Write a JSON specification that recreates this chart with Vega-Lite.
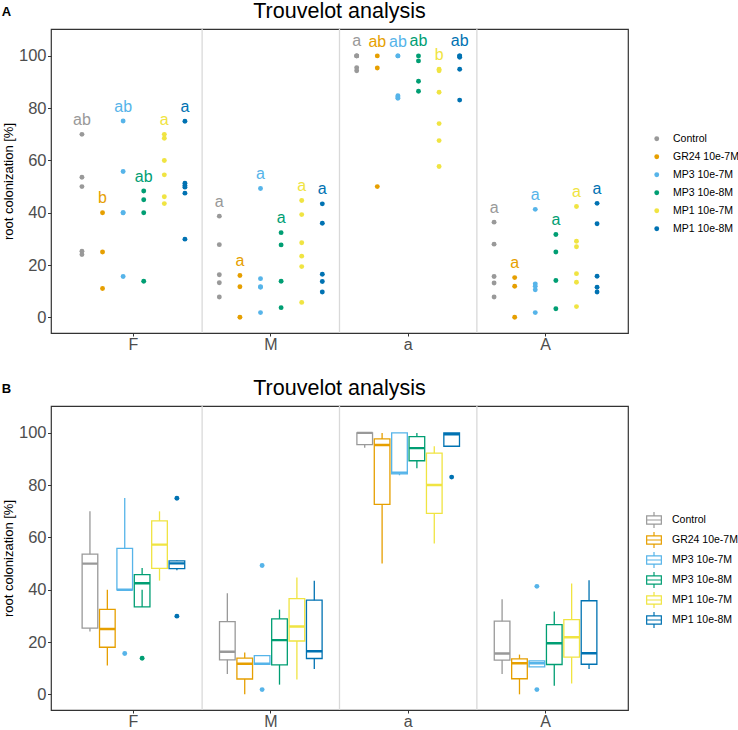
{
  "$schema": "https://vega.github.io/schema/vega-lite/v6.json",
  "background": "white",
  "padding": {"left": 1, "top": 0, "right": 0, "bottom": 0},
  "config": {
    "font": "Liberation Sans",
    "view": {"stroke": "#333333", "strokeWidth": 1.2},
    "axis": {"grid": false, "domain": false, "tickColor": "#333333", "tickSize": 3.5, "labelColor": "#4d4d4d", "labelFontSize": 16.5, "labelPadding": 1.5, "titleFontSize": 13, "titleFontWeight": "normal", "titleColor": "#000000", "titlePadding": 3},
    "axisX": {"labelPadding": 0, "labelFontSize": 16, "tickSize": 3},
    "legend": {"labelFontSize": 10.5, "labelColor": "#000000", "padding": 0},
    "title": {"fontSize": 21.5, "fontWeight": "normal", "color": "#000000", "offset": 5.5}
  },
  "datasets": {
    "pts": [
      {"cat": "F", "group": "Control", "value": 70}, {"cat": "F", "group": "Control", "value": 53.6}, {"cat": "F", "group": "Control", "value": 50}, {"cat": "F", "group": "Control", "value": 25.3}, {"cat": "F", "group": "Control", "value": 24},
      {"cat": "F", "group": "GR24 10e-7M", "value": 40}, {"cat": "F", "group": "GR24 10e-7M", "value": 25}, {"cat": "F", "group": "GR24 10e-7M", "value": 11},
      {"cat": "F", "group": "MP3 10e-7M", "value": 75.1}, {"cat": "F", "group": "MP3 10e-7M", "value": 55.8}, {"cat": "F", "group": "MP3 10e-7M", "value": 40}, {"cat": "F", "group": "MP3 10e-7M", "value": 40}, {"cat": "F", "group": "MP3 10e-7M", "value": 15.6},
      {"cat": "F", "group": "MP3 10e-8M", "value": 48.3}, {"cat": "F", "group": "MP3 10e-8M", "value": 45}, {"cat": "F", "group": "MP3 10e-8M", "value": 40}, {"cat": "F", "group": "MP3 10e-8M", "value": 13.8},
      {"cat": "F", "group": "MP1 10e-7M", "value": 70}, {"cat": "F", "group": "MP1 10e-7M", "value": 68.5}, {"cat": "F", "group": "MP1 10e-7M", "value": 60}, {"cat": "F", "group": "MP1 10e-7M", "value": 54.5}, {"cat": "F", "group": "MP1 10e-7M", "value": 46.1}, {"cat": "F", "group": "MP1 10e-7M", "value": 43.5},
      {"cat": "F", "group": "MP1 10e-8M", "value": 75}, {"cat": "F", "group": "MP1 10e-8M", "value": 51.3}, {"cat": "F", "group": "MP1 10e-8M", "value": 50.4}, {"cat": "F", "group": "MP1 10e-8M", "value": 49.8}, {"cat": "F", "group": "MP1 10e-8M", "value": 47.5}, {"cat": "F", "group": "MP1 10e-8M", "value": 29.9},
      {"cat": "M", "group": "Control", "value": 38.7}, {"cat": "M", "group": "Control", "value": 27.8}, {"cat": "M", "group": "Control", "value": 16.3}, {"cat": "M", "group": "Control", "value": 13.2}, {"cat": "M", "group": "Control", "value": 7.8},
      {"cat": "M", "group": "GR24 10e-7M", "value": 16}, {"cat": "M", "group": "GR24 10e-7M", "value": 11.7}, {"cat": "M", "group": "GR24 10e-7M", "value": 0},
      {"cat": "M", "group": "MP3 10e-7M", "value": 49.3}, {"cat": "M", "group": "MP3 10e-7M", "value": 14.8}, {"cat": "M", "group": "MP3 10e-7M", "value": 11.7}, {"cat": "M", "group": "MP3 10e-7M", "value": 11.5}, {"cat": "M", "group": "MP3 10e-7M", "value": 1.8},
      {"cat": "M", "group": "MP3 10e-8M", "value": 32.4}, {"cat": "M", "group": "MP3 10e-8M", "value": 27.7}, {"cat": "M", "group": "MP3 10e-8M", "value": 13.8}, {"cat": "M", "group": "MP3 10e-8M", "value": 3.7},
      {"cat": "M", "group": "MP1 10e-7M", "value": 44.7}, {"cat": "M", "group": "MP1 10e-7M", "value": 39.3}, {"cat": "M", "group": "MP1 10e-7M", "value": 28.5}, {"cat": "M", "group": "MP1 10e-7M", "value": 23.4}, {"cat": "M", "group": "MP1 10e-7M", "value": 19.4}, {"cat": "M", "group": "MP1 10e-7M", "value": 5.7},
      {"cat": "M", "group": "MP1 10e-8M", "value": 43.4}, {"cat": "M", "group": "MP1 10e-8M", "value": 36}, {"cat": "M", "group": "MP1 10e-8M", "value": 16.5}, {"cat": "M", "group": "MP1 10e-8M", "value": 13.7}, {"cat": "M", "group": "MP1 10e-8M", "value": 9.7},
      {"cat": "a", "group": "Control", "value": 100}, {"cat": "a", "group": "Control", "value": 100}, {"cat": "a", "group": "Control", "value": 100}, {"cat": "a", "group": "Control", "value": 95.5}, {"cat": "a", "group": "Control", "value": 94.3},
      {"cat": "a", "group": "GR24 10e-7M", "value": 100}, {"cat": "a", "group": "GR24 10e-7M", "value": 95.4}, {"cat": "a", "group": "GR24 10e-7M", "value": 50},
      {"cat": "a", "group": "MP3 10e-7M", "value": 100}, {"cat": "a", "group": "MP3 10e-7M", "value": 100}, {"cat": "a", "group": "MP3 10e-7M", "value": 84.8}, {"cat": "a", "group": "MP3 10e-7M", "value": 84.3}, {"cat": "a", "group": "MP3 10e-7M", "value": 83.8},
      {"cat": "a", "group": "MP3 10e-8M", "value": 100}, {"cat": "a", "group": "MP3 10e-8M", "value": 98.1}, {"cat": "a", "group": "MP3 10e-8M", "value": 90.3}, {"cat": "a", "group": "MP3 10e-8M", "value": 86.5},
      {"cat": "a", "group": "MP1 10e-7M", "value": 94.9}, {"cat": "a", "group": "MP1 10e-7M", "value": 94.3}, {"cat": "a", "group": "MP1 10e-7M", "value": 86.1}, {"cat": "a", "group": "MP1 10e-7M", "value": 74.1}, {"cat": "a", "group": "MP1 10e-7M", "value": 67.6}, {"cat": "a", "group": "MP1 10e-7M", "value": 57.7},
      {"cat": "a", "group": "MP1 10e-8M", "value": 100}, {"cat": "a", "group": "MP1 10e-8M", "value": 100}, {"cat": "a", "group": "MP1 10e-8M", "value": 99.5}, {"cat": "a", "group": "MP1 10e-8M", "value": 94.9}, {"cat": "a", "group": "MP1 10e-8M", "value": 83.1},
      {"cat": "A", "group": "Control", "value": 36.4}, {"cat": "A", "group": "Control", "value": 28}, {"cat": "A", "group": "Control", "value": 15.6}, {"cat": "A", "group": "Control", "value": 13.1}, {"cat": "A", "group": "Control", "value": 7.8},
      {"cat": "A", "group": "GR24 10e-7M", "value": 15.2}, {"cat": "A", "group": "GR24 10e-7M", "value": 11.9}, {"cat": "A", "group": "GR24 10e-7M", "value": 0},
      {"cat": "A", "group": "MP3 10e-7M", "value": 41.3}, {"cat": "A", "group": "MP3 10e-7M", "value": 12.8}, {"cat": "A", "group": "MP3 10e-7M", "value": 11.9}, {"cat": "A", "group": "MP3 10e-7M", "value": 10.5}, {"cat": "A", "group": "MP3 10e-7M", "value": 1.8},
      {"cat": "A", "group": "MP3 10e-8M", "value": 31.7}, {"cat": "A", "group": "MP3 10e-8M", "value": 25}, {"cat": "A", "group": "MP3 10e-8M", "value": 14.1}, {"cat": "A", "group": "MP3 10e-8M", "value": 3.3},
      {"cat": "A", "group": "MP1 10e-7M", "value": 42.4}, {"cat": "A", "group": "MP1 10e-7M", "value": 29.1}, {"cat": "A", "group": "MP1 10e-7M", "value": 27}, {"cat": "A", "group": "MP1 10e-7M", "value": 16.7}, {"cat": "A", "group": "MP1 10e-7M", "value": 13.4}, {"cat": "A", "group": "MP1 10e-7M", "value": 4.1},
      {"cat": "A", "group": "MP1 10e-8M", "value": 43.6}, {"cat": "A", "group": "MP1 10e-8M", "value": 35.8}, {"cat": "A", "group": "MP1 10e-8M", "value": 15.7}, {"cat": "A", "group": "MP1 10e-8M", "value": 11.5}, {"cat": "A", "group": "MP1 10e-8M", "value": 9.7}
    ],
    "letters": [
      {"cat": "F", "group": "Control", "letter": "ab", "pos": 73.6}, {"cat": "F", "group": "GR24 10e-7M", "letter": "b", "pos": 43.6}, {"cat": "F", "group": "MP3 10e-7M", "letter": "ab", "pos": 78.7}, {"cat": "F", "group": "MP3 10e-8M", "letter": "ab", "pos": 51.9}, {"cat": "F", "group": "MP1 10e-7M", "letter": "a", "pos": 73.6}, {"cat": "F", "group": "MP1 10e-8M", "letter": "a", "pos": 78.6},
      {"cat": "M", "group": "Control", "letter": "a", "pos": 42.3}, {"cat": "M", "group": "GR24 10e-7M", "letter": "a", "pos": 19.6}, {"cat": "M", "group": "MP3 10e-7M", "letter": "a", "pos": 52.9}, {"cat": "M", "group": "MP3 10e-8M", "letter": "a", "pos": 36}, {"cat": "M", "group": "MP1 10e-7M", "letter": "a", "pos": 48.3}, {"cat": "M", "group": "MP1 10e-8M", "letter": "a", "pos": 47},
      {"cat": "a", "group": "Control", "letter": "a", "pos": 103.8}, {"cat": "a", "group": "GR24 10e-7M", "letter": "ab", "pos": 103.6}, {"cat": "a", "group": "MP3 10e-7M", "letter": "ab", "pos": 103.6}, {"cat": "a", "group": "MP3 10e-8M", "letter": "ab", "pos": 103.9}, {"cat": "a", "group": "MP1 10e-7M", "letter": "b", "pos": 98.5}, {"cat": "a", "group": "MP1 10e-8M", "letter": "ab", "pos": 103.9},
      {"cat": "A", "group": "Control", "letter": "a", "pos": 40}, {"cat": "A", "group": "GR24 10e-7M", "letter": "a", "pos": 18.8}, {"cat": "A", "group": "MP3 10e-7M", "letter": "a", "pos": 44.9}, {"cat": "A", "group": "MP3 10e-8M", "letter": "a", "pos": 35.3}, {"cat": "A", "group": "MP1 10e-7M", "letter": "a", "pos": 46}, {"cat": "A", "group": "MP1 10e-8M", "letter": "a", "pos": 47.2}
    ],
    "seps": [{"cat": "F"}, {"cat": "M"}, {"cat": "a"}]
  },
  "spacing": 24,
  "resolve": {"scale": {"color": "independent", "xOffset": "independent"}, "legend": {"color": "independent"}},
  "vconcat": [
    {
      "title": {"text": "A", "anchor": "start", "frame": "bounds", "fontSize": 13, "fontWeight": "bold", "offset": -18},
      "vconcat": [
        {
          "width": 577,
          "height": 304,
          "title": {"text": "Trouvelot analysis", "anchor": "middle", "frame": "group"},
          "layer": [
            {
              "data": {"name": "seps"},
              "mark": {"type": "rule", "color": "#d9d9d9", "strokeWidth": 1.3},
              "encoding": {
                "x": {"field": "cat", "type": "nominal", "bandPosition": 1, "sort": ["F", "M", "a", "A"], "scale": {"type": "band", "domain": ["F", "M", "a", "A"], "paddingInner": 0, "paddingOuter": 0.1}, "axis": {"title": null, "labelAngle": 0}}
              }
            },
            {
              "data": {"name": "pts"},
              "mark": {"type": "circle", "size": 24, "opacity": 1},
              "encoding": {
                "x": {"field": "cat", "type": "nominal", "sort": ["F", "M", "a", "A"], "scale": {"type": "band", "domain": ["F", "M", "a", "A"], "paddingInner": 0, "paddingOuter": 0.1}, "axis": {"title": null, "labelAngle": 0}},
                "xOffset": {"field": "group", "type": "nominal", "sort": ["Control", "GR24 10e-7M", "MP3 10e-7M", "MP3 10e-8M", "MP1 10e-7M", "MP1 10e-8M"], "scale": {"type": "band", "paddingInner": 0, "paddingOuter": 0.335}},
                "y": {"field": "value", "type": "quantitative", "scale": {"domain": [-6, 110.3], "nice": false, "zero": false}, "axis": {"values": [0, 20, 40, 60, 80, 100], "title": "root colonization [%]"}},
                "color": {"field": "group", "type": "nominal", "scale": {"domain": ["Control", "GR24 10e-7M", "MP3 10e-7M", "MP3 10e-8M", "MP1 10e-7M", "MP1 10e-8M"], "range": ["#999999", "#E69F00", "#56B4E9", "#009E73", "#F0E442", "#0072B2"]}, "legend": {"orient": "none", "legendX": 600.5, "legendY": 104.5, "title": null, "symbolType": "circle", "symbolSize": 24, "labelOffset": 11, "rowPadding": 7}}
              }
            },
            {
              "data": {"name": "letters"},
              "mark": {"type": "text", "fontSize": 16, "baseline": "alphabetic"},
              "encoding": {
                "x": {"field": "cat", "type": "nominal", "sort": ["F", "M", "a", "A"]},
                "xOffset": {"field": "group", "type": "nominal", "sort": ["Control", "GR24 10e-7M", "MP3 10e-7M", "MP3 10e-8M", "MP1 10e-7M", "MP1 10e-8M"]},
                "y": {"field": "pos", "type": "quantitative"},
                "text": {"field": "letter", "type": "nominal"},
                "color": {"field": "group", "type": "nominal", "legend": null}
              }
            }
          ]
        }
      ]
    },
    {
      "title": {"text": "B", "anchor": "start", "frame": "bounds", "fontSize": 13, "fontWeight": "bold", "offset": -18},
      "vconcat": [
        {
          "width": 577,
          "height": 304,
          "title": {"text": "Trouvelot analysis", "anchor": "middle", "frame": "group"},
          "layer": [
            {
              "data": {"name": "seps"},
              "mark": {"type": "rule", "color": "#d9d9d9", "strokeWidth": 1.3},
              "encoding": {
                "x": {"field": "cat", "type": "nominal", "bandPosition": 1, "sort": ["F", "M", "a", "A"], "scale": {"type": "band", "domain": ["F", "M", "a", "A"], "paddingInner": 0, "paddingOuter": 0.1}, "axis": {"title": null, "labelAngle": 0}}
              }
            },
            {
              "data": {"name": "pts"},
              "transform": [
                {"joinaggregate": [{"op": "q1", "field": "value", "as": "q1"}, {"op": "q3", "field": "value", "as": "q3"}, {"op": "median", "field": "value", "as": "med"}], "groupby": ["cat", "group"]}
              ],
              "layer": [
                {
                  "transform": [
                    {"filter": "datum.value >= datum.q1 - 1.5 * (datum.q3 - datum.q1) && datum.value <= datum.q3 + 1.5 * (datum.q3 - datum.q1)"},
                    {"aggregate": [{"op": "min", "field": "value", "as": "lo"}, {"op": "max", "field": "value", "as": "hi"}], "groupby": ["cat", "group", "q1", "q3", "med"]}
                  ],
                  "layer": [
                    {
                      "mark": {"type": "bar", "filled": false, "fill": "white", "strokeWidth": 1.3},
                      "encoding": {
                        "x": {"field": "cat", "type": "nominal", "sort": ["F", "M", "a", "A"], "scale": {"type": "band"}},
                        "xOffset": {"field": "group", "type": "nominal", "sort": ["Control", "GR24 10e-7M", "MP3 10e-7M", "MP3 10e-8M", "MP1 10e-7M", "MP1 10e-8M"], "scale": {"type": "band", "paddingInner": 0.1, "paddingOuter": 1.07}},
                        "y": {"field": "q1", "type": "quantitative", "scale": {"domain": [-6, 110.3], "nice": false, "zero": false}, "axis": {"values": [0, 20, 40, 60, 80, 100], "title": "root colonization [%]"}},
                        "y2": {"field": "q3"},
                        "color": {"field": "group", "type": "nominal", "scale": {"domain": ["Control", "GR24 10e-7M", "MP3 10e-7M", "MP3 10e-8M", "MP1 10e-7M", "MP1 10e-8M"], "range": ["#999999", "#E69F00", "#56B4E9", "#009E73", "#F0E442", "#0072B2"]}, "legend": {"orient": "none", "legendX": 595, "legendY": 106, "title": null, "symbolType": "M-1,-0.56H1V0.56H-1Z M-1,0H1 M0,-0.56V-1.1 M0,0.56V1.1", "symbolSize": 216, "symbolStrokeWidth": 1.2, "symbolFillColor": "white", "labelOffset": 10, "rowPadding": -2}}
                      }
                    },
                    {
                      "mark": {"type": "rule", "strokeWidth": 1.3},
                      "encoding": {
                        "x": {"field": "cat", "type": "nominal", "sort": ["F", "M", "a", "A"]},
                        "xOffset": {"field": "group", "type": "nominal", "sort": ["Control", "GR24 10e-7M", "MP3 10e-7M", "MP3 10e-8M", "MP1 10e-7M", "MP1 10e-8M"]},
                        "y": {"field": "lo", "type": "quantitative"},
                        "y2": {"field": "q1"},
                        "color": {"field": "group", "type": "nominal", "legend": null}
                      }
                    },
                    {
                      "mark": {"type": "rule", "strokeWidth": 1.3},
                      "encoding": {
                        "x": {"field": "cat", "type": "nominal", "sort": ["F", "M", "a", "A"]},
                        "xOffset": {"field": "group", "type": "nominal", "sort": ["Control", "GR24 10e-7M", "MP3 10e-7M", "MP3 10e-8M", "MP1 10e-7M", "MP1 10e-8M"]},
                        "y": {"field": "q3", "type": "quantitative"},
                        "y2": {"field": "hi"},
                        "color": {"field": "group", "type": "nominal", "legend": null}
                      }
                    },
                    {
                      "mark": {"type": "bar", "filled": false, "strokeWidth": 2.4},
                      "encoding": {
                        "x": {"field": "cat", "type": "nominal", "sort": ["F", "M", "a", "A"]},
                        "xOffset": {"field": "group", "type": "nominal", "sort": ["Control", "GR24 10e-7M", "MP3 10e-7M", "MP3 10e-8M", "MP1 10e-7M", "MP1 10e-8M"]},
                        "y": {"field": "med", "type": "quantitative"},
                        "y2": {"field": "med"},
                        "color": {"field": "group", "type": "nominal", "legend": null}
                      }
                    }
                  ]
                },
                {
                  "transform": [
                    {"filter": "datum.value < datum.q1 - 1.5 * (datum.q3 - datum.q1) || datum.value > datum.q3 + 1.5 * (datum.q3 - datum.q1)"}
                  ],
                  "mark": {"type": "circle", "size": 24, "opacity": 1},
                  "encoding": {
                    "x": {"field": "cat", "type": "nominal", "sort": ["F", "M", "a", "A"]},
                    "xOffset": {"field": "group", "type": "nominal", "sort": ["Control", "GR24 10e-7M", "MP3 10e-7M", "MP3 10e-8M", "MP1 10e-7M", "MP1 10e-8M"]},
                    "y": {"field": "value", "type": "quantitative"},
                    "fill": {"field": "group", "type": "nominal", "scale": {"domain": ["Control", "GR24 10e-7M", "MP3 10e-7M", "MP3 10e-8M", "MP1 10e-7M", "MP1 10e-8M"], "range": ["#999999", "#E69F00", "#56B4E9", "#009E73", "#F0E442", "#0072B2"]}, "legend": null}
                  }
                }
              ]
            }
          ]
        }
      ]
    }
  ]
}
